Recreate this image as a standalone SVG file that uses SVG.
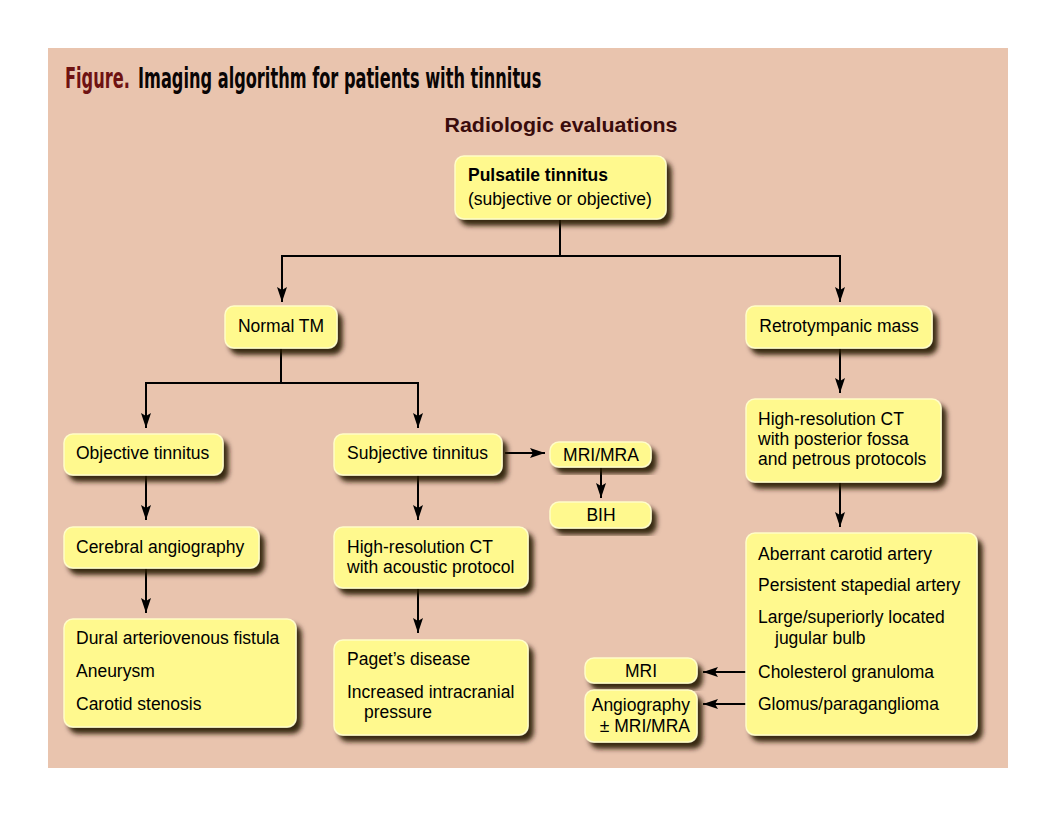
<svg xmlns="http://www.w3.org/2000/svg" width="1056" height="816" viewBox="0 0 1056 816">
<defs>
<filter id="sh" x="-10%" y="-10%" width="130%" height="140%">
<feDropShadow dx="5" dy="6" stdDeviation="2.5" flood-color="#241505" flood-opacity="0.9"/>
</filter>
<marker id="ah" viewBox="0 0 15 10" refX="15" refY="5" markerWidth="15" markerHeight="10" markerUnits="userSpaceOnUse" orient="auto">
<path d="M0,0 L15,5 L0,10 L3,5 z" fill="#000"/>
</marker>
</defs>
<style>
.bg{fill:#E9C4AE}
.box{fill:#FFF98E;stroke:#FFFDC8;stroke-width:1.5;filter:url(#sh)}
.t{font-family:"Liberation Sans",Arial,sans-serif;font-size:17.5px;fill:#000}
.b{font-weight:bold}
.c{text-anchor:middle}
.ttl{font-family:"DejaVu Sans Condensed","Liberation Sans Narrow","Liberation Sans",sans-serif;font-weight:bold;font-size:28px}
.ln{fill:none;stroke:#000;stroke-width:2}
.arr{fill:none;stroke:#000;stroke-width:2;marker-end:url(#ah)}
</style>
<rect width="1056" height="816" fill="#fff"/>
<rect class="bg" x="48" y="48" width="960" height="720"/>
<g id="title" transform="translate(65,88) scale(0.63,1)">
<text class="ttl" x="0" y="0" fill="#6E1212" textLength="103" lengthAdjust="spacingAndGlyphs">Figure.</text>
<text class="ttl" x="116" y="0" fill="#0a0505" textLength="640" lengthAdjust="spacingAndGlyphs">Imaging algorithm for patients with tinnitus</text>
</g>
<text x="561" y="132" font-family="'Liberation Sans',Arial,sans-serif" font-weight="bold" font-size="19.5" fill="#3A0C0C" text-anchor="middle" textLength="233" lengthAdjust="spacingAndGlyphs">Radiologic evaluations</text>

<g id="connectors">
<path class="ln" d="M560,220 V256 M282,256 H840"/>
<path class="arr" d="M282,255 V302"/>
<path class="arr" d="M840,255 V302"/>
<path class="ln" d="M281,348 V383 M146,383 H418"/>
<path class="arr" d="M146,382 V428"/>
<path class="arr" d="M418,382 V428"/>
<path class="arr" d="M840,348 V393"/>
<path class="arr" d="M146,475 V520"/>
<path class="arr" d="M146,568 V613"/>
<path class="arr" d="M418,475 V520"/>
<path class="arr" d="M418,588 V633"/>
<path class="arr" d="M505,453 H545"/>
<path class="arr" d="M601,467 V498"/>
<path class="arr" d="M840,482 V527"/>
<path class="arr" d="M753,672 H703"/>
<path class="arr" d="M753,704 H703"/>
</g>

<g id="pulsatile">
<rect class="box" x="455" y="156" width="211" height="63" rx="9"/>
<text class="t b" x="468" y="181">Pulsatile tinnitus</text>
<text class="t" x="468" y="205">(subjective or objective)</text>
</g>
<g id="normal-tm">
<rect class="box" x="225" y="306" width="112" height="42" rx="9"/>
<text class="t c" x="281" y="332">Normal TM</text>
</g>
<g id="retro">
<rect class="box" x="746" y="306" width="186" height="42" rx="9"/>
<text class="t c" x="839" y="332">Retrotympanic mass</text>
</g>
<g id="objective">
<rect class="box" x="64" y="434" width="159" height="41" rx="9"/>
<text class="t" x="76" y="459">Objective tinnitus</text>
</g>
<g id="cerebral">
<rect class="box" x="64" y="527" width="195" height="41" rx="9"/>
<text class="t" x="76" y="553">Cerebral angiography</text>
</g>
<g id="dural">
<rect class="box" x="64" y="619" width="232" height="108" rx="9"/>
<text class="t" x="76" y="644">Dural arteriovenous fistula</text>
<text class="t" x="76" y="677">Aneurysm</text>
<text class="t" x="76" y="710">Carotid stenosis</text>
</g>
<g id="subjective">
<rect class="box" x="334" y="434" width="168" height="41" rx="9"/>
<text class="t" x="347" y="459">Subjective tinnitus</text>
</g>
<g id="mrimra">
<rect class="box" x="550" y="442" width="101" height="25" rx="9"/>
<text class="t c" x="601" y="461">MRI/MRA</text>
</g>
<g id="bih">
<rect class="box" x="550" y="502" width="101" height="26" rx="9"/>
<text class="t c" x="601" y="521">BIH</text>
</g>
<g id="hrct-acoustic">
<rect class="box" x="334" y="527" width="194" height="61" rx="9"/>
<text class="t" x="347" y="553">High-resolution CT</text>
<text class="t" x="347" y="573">with acoustic protocol</text>
</g>
<g id="paget">
<rect class="box" x="334" y="640" width="194" height="95" rx="9"/>
<text class="t" x="347" y="665">Paget’s disease</text>
<text class="t" x="347" y="698">Increased intracranial</text>
<text class="t" x="364" y="718">pressure</text>
</g>
<g id="hrct-posterior">
<rect class="box" x="746" y="399" width="195" height="83" rx="9"/>
<text class="t" x="758" y="425">High-resolution CT</text>
<text class="t" x="758" y="445">with posterior fossa</text>
<text class="t" x="758" y="465">and petrous protocols</text>
</g>
<g id="findings">
<rect class="box" x="746" y="533" width="231" height="202" rx="9"/>
<text class="t" x="758" y="560">Aberrant carotid artery</text>
<text class="t" x="758" y="591">Persistent stapedial artery</text>
<text class="t" x="758" y="623">Large/superiorly located</text>
<text class="t" x="775" y="644">jugular bulb</text>
<text class="t" x="758" y="678">Cholesterol granuloma</text>
<text class="t" x="758" y="710">Glomus/paraganglioma</text>
</g>
<g id="mri">
<rect class="box" x="585" y="658" width="112" height="25" rx="9"/>
<text class="t c" x="641" y="677">MRI</text>
</g>
<g id="angio">
<rect class="box" x="585" y="690" width="112" height="52" rx="9"/>
<text class="t" x="690" y="711" text-anchor="end">Angiography</text>
<text class="t" x="690" y="732" text-anchor="end">± MRI/MRA</text>
</g>
</svg>
